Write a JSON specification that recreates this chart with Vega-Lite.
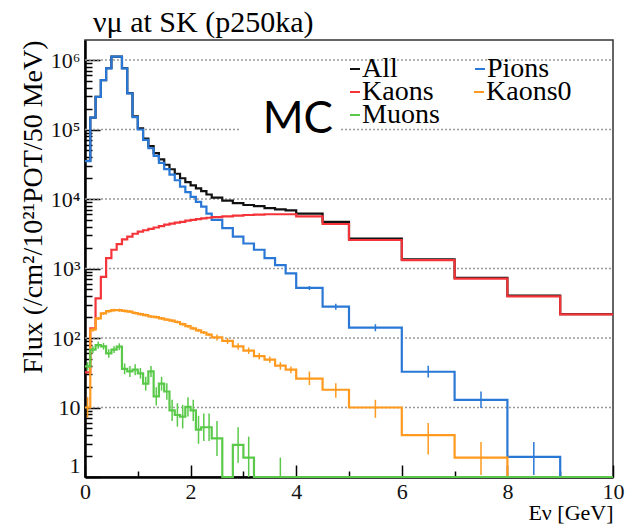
{
  "$schema": "https://vega.github.io/schema/vega-lite/v6.json",
  "width": 528,
  "height": 437,
  "autosize": "none",
  "padding": {"left": 85, "top": 40, "right": 16, "bottom": 48},
  "background": "white",
  "title": {"text": "νμ at SK (p250ka)", "anchor": "start", "frame": "group", "offset": 2, "dx": 8, "font": "Liberation Serif", "fontSize": 30, "fontWeight": "normal", "color": "#000"},
  "config": {
    "view": {"stroke": "#333", "strokeWidth": 1.5},
    "font": "Liberation Serif",
    "legend": {"labelFont": "Liberation Serif", "labelFontSize": 28, "labelColor": "#000", "title": null, "orient": "none", "direction": "horizontal", "columns": 2, "symbolType": "stroke", "symbolSize": 100, "symbolStrokeWidth": 2, "labelOffset": -7, "padding": 0, "labelLimit": 400, "rowPadding": 0}
  },
  "resolve": {"scale": {"color": "independent"}, "legend": {"color": "independent"}},
  "datasets": {
    "grid": [
      {"g": 10, "x0": 0, "x1": 10},
      {"g": 100, "x0": 0, "x1": 10},
      {"g": 1000, "x0": 0, "x1": 10},
      {"g": 10000, "x0": 0, "x1": 10},
      {"g": 100000, "x0": 0, "x1": 2.94},
      {"g": 100000, "x0": 4.85, "x1": 10},
      {"g": 1000000, "x0": 0, "x1": 10}
    ],
    "ann": [{"t": "MC", "e": 4.03, "f": 90000}],
    "h": [
      {"s":"All","e":0,"f":35500},{"s":"All","e":0.1,"f":148000},{"s":"All","e":0.2,"f":295000},{"s":"All","e":0.3,"f":514000},{"s":"All","e":0.4,"f":761000},{"s":"All","e":0.5,"f":1122000},{"s":"All","e":0.6,"f":1122000},{"s":"All","e":0.7,"f":762000},{"s":"All","e":0.8,"f":334000},{"s":"All","e":0.9,"f":155000},{"s":"All","e":1,"f":103500},{"s":"All","e":1.1,"f":74200},{"s":"All","e":1.2,"f":57500},{"s":"All","e":1.3,"f":45700},{"s":"All","e":1.4,"f":37100},{"s":"All","e":1.5,"f":31100},{"s":"All","e":1.6,"f":26800},{"s":"All","e":1.7,"f":23100},{"s":"All","e":1.8,"f":19900},{"s":"All","e":1.9,"f":17500},{"s":"All","e":2,"f":15700},{"s":"All","e":2.1,"f":14200},{"s":"All","e":2.2,"f":13000},{"s":"All","e":2.3,"f":11600},{"s":"All","e":2.4,"f":10500},{"s":"All","e":2.6,"f":9500},{"s":"All","e":2.8,"f":8700},{"s":"All","e":3,"f":8200},{"s":"All","e":3.2,"f":7900},{"s":"All","e":3.4,"f":7400},{"s":"All","e":3.6,"f":7100},{"s":"All","e":3.8,"f":6850},{"s":"All","e":4,"f":6150},{"s":"All","e":4.5,"f":4700},{"s":"All","e":5,"f":2700},{"s":"All","e":6,"f":1350},{"s":"All","e":7,"f":733},{"s":"All","e":8,"f":407},{"s":"All","e":9,"f":221},{"s":"All","e":10,"f":221},
      {"s":"Pions","e":0,"f":35000},{"s":"Pions","e":0.1,"f":148000},{"s":"Pions","e":0.2,"f":295000},{"s":"Pions","e":0.3,"f":513000},{"s":"Pions","e":0.4,"f":759000},{"s":"Pions","e":0.5,"f":1120000},{"s":"Pions","e":0.6,"f":1120000},{"s":"Pions","e":0.7,"f":759000},{"s":"Pions","e":0.8,"f":331000},{"s":"Pions","e":0.9,"f":151000},{"s":"Pions","e":1,"f":100000},{"s":"Pions","e":1.1,"f":70800},{"s":"Pions","e":1.2,"f":53700},{"s":"Pions","e":1.3,"f":41700},{"s":"Pions","e":1.4,"f":33100},{"s":"Pions","e":1.5,"f":26900},{"s":"Pions","e":1.6,"f":22400},{"s":"Pions","e":1.7,"f":18600},{"s":"Pions","e":1.8,"f":15100},{"s":"Pions","e":1.9,"f":12600},{"s":"Pions","e":2,"f":10700},{"s":"Pions","e":2.1,"f":9120},{"s":"Pions","e":2.2,"f":7760},{"s":"Pions","e":2.3,"f":6170},{"s":"Pions","e":2.4,"f":5010},{"s":"Pions","e":2.6,"f":3800},{"s":"Pions","e":2.8,"f":2880},{"s":"Pions","e":3,"f":2290},{"s":"Pions","e":3.2,"f":1860},{"s":"Pions","e":3.4,"f":1410},{"s":"Pions","e":3.6,"f":1120},{"s":"Pions","e":3.8,"f":851},{"s":"Pions","e":4,"f":525},{"s":"Pions","e":4.5,"f":282},{"s":"Pions","e":5,"f":141},{"s":"Pions","e":6,"f":32.7},{"s":"Pions","e":7,"f":12.9},{"s":"Pions","e":8,"f":1.95},{"s":"Pions","e":9,"f":1},{"s":"Pions","e":10,"f":1},
      {"s":"Kaons","e":0,"f":32},{"s":"Kaons","e":0.1,"f":138},{"s":"Kaons","e":0.2,"f":372},{"s":"Kaons","e":0.3,"f":759},{"s":"Kaons","e":0.4,"f":1410},{"s":"Kaons","e":0.5,"f":1860},{"s":"Kaons","e":0.6,"f":2240},{"s":"Kaons","e":0.7,"f":2630},{"s":"Kaons","e":0.8,"f":2880},{"s":"Kaons","e":0.9,"f":3160},{"s":"Kaons","e":1,"f":3390},{"s":"Kaons","e":1.1,"f":3550},{"s":"Kaons","e":1.2,"f":3720},{"s":"Kaons","e":1.3,"f":3890},{"s":"Kaons","e":1.4,"f":4070},{"s":"Kaons","e":1.5,"f":4270},{"s":"Kaons","e":1.6,"f":4420},{"s":"Kaons","e":1.7,"f":4570},{"s":"Kaons","e":1.8,"f":4680},{"s":"Kaons","e":1.9,"f":4900},{"s":"Kaons","e":2,"f":5010},{"s":"Kaons","e":2.1,"f":5130},{"s":"Kaons","e":2.2,"f":5250},{"s":"Kaons","e":2.3,"f":5370},{"s":"Kaons","e":2.4,"f":5500},{"s":"Kaons","e":2.6,"f":5620},{"s":"Kaons","e":2.8,"f":5750},{"s":"Kaons","e":3,"f":5890},{"s":"Kaons","e":3.2,"f":5960},{"s":"Kaons","e":3.4,"f":6030},{"s":"Kaons","e":3.6,"f":6030},{"s":"Kaons","e":3.8,"f":6030},{"s":"Kaons","e":4,"f":5620},{"s":"Kaons","e":4.5,"f":4370},{"s":"Kaons","e":5,"f":2570},{"s":"Kaons","e":6,"f":1320},{"s":"Kaons","e":7,"f":716},{"s":"Kaons","e":8,"f":398},{"s":"Kaons","e":9,"f":219},{"s":"Kaons","e":10,"f":219},
      {"s":"Kaons0","e":0,"f":10},{"s":"Kaons0","e":0.1,"f":132},{"s":"Kaons0","e":0.2,"f":191},{"s":"Kaons0","e":0.3,"f":226},{"s":"Kaons0","e":0.4,"f":243},{"s":"Kaons0","e":0.5,"f":251},{"s":"Kaons0","e":0.6,"f":251},{"s":"Kaons0","e":0.7,"f":245},{"s":"Kaons0","e":0.8,"f":240},{"s":"Kaons0","e":0.9,"f":229},{"s":"Kaons0","e":1,"f":221},{"s":"Kaons0","e":1.1,"f":214},{"s":"Kaons0","e":1.2,"f":204},{"s":"Kaons0","e":1.3,"f":200},{"s":"Kaons0","e":1.4,"f":191},{"s":"Kaons0","e":1.5,"f":184},{"s":"Kaons0","e":1.6,"f":178},{"s":"Kaons0","e":1.7,"f":170},{"s":"Kaons0","e":1.8,"f":158},{"s":"Kaons0","e":1.9,"f":148},{"s":"Kaons0","e":2,"f":138},{"s":"Kaons0","e":2.1,"f":129},{"s":"Kaons0","e":2.2,"f":120},{"s":"Kaons0","e":2.3,"f":112},{"s":"Kaons0","e":2.4,"f":102},{"s":"Kaons0","e":2.6,"f":91},{"s":"Kaons0","e":2.8,"f":76},{"s":"Kaons0","e":3,"f":66},{"s":"Kaons0","e":3.2,"f":55},{"s":"Kaons0","e":3.4,"f":49},{"s":"Kaons0","e":3.6,"f":40},{"s":"Kaons0","e":3.8,"f":35},{"s":"Kaons0","e":4,"f":26},{"s":"Kaons0","e":4.5,"f":18},{"s":"Kaons0","e":5,"f":10},{"s":"Kaons0","e":6,"f":4},{"s":"Kaons0","e":7,"f":1.9},{"s":"Kaons0","e":8,"f":1},{"s":"Kaons0","e":9,"f":1},{"s":"Kaons0","e":10,"f":1},
      {"s":"Muons","e":0,"f":39},{"s":"Muons","e":0.1,"f":68},{"s":"Muons","e":0.2,"f":79},{"s":"Muons","e":0.3,"f":76},{"s":"Muons","e":0.4,"f":60},{"s":"Muons","e":0.5,"f":68},{"s":"Muons","e":0.6,"f":75},{"s":"Muons","e":0.7,"f":36},{"s":"Muons","e":0.8,"f":33},{"s":"Muons","e":0.9,"f":35},{"s":"Muons","e":1,"f":31},{"s":"Muons","e":1.1,"f":22},{"s":"Muons","e":1.2,"f":33},{"s":"Muons","e":1.3,"f":14.5},{"s":"Muons","e":1.4,"f":22},{"s":"Muons","e":1.5,"f":17},{"s":"Muons","e":1.6,"f":9.1},{"s":"Muons","e":1.7,"f":7.8},{"s":"Muons","e":1.8,"f":7.4},{"s":"Muons","e":1.9,"f":10.2},{"s":"Muons","e":2,"f":9.1},{"s":"Muons","e":2.1,"f":4.8},{"s":"Muons","e":2.2,"f":5.2},{"s":"Muons","e":2.3,"f":5.2},{"s":"Muons","e":2.4,"f":3.6},{"s":"Muons","e":2.6,"f":1},{"s":"Muons","e":2.8,"f":2.9},{"s":"Muons","e":3,"f":1.9},{"s":"Muons","e":3.2,"f":1},{"s":"Muons","e":3.4,"f":1},{"s":"Muons","e":3.6,"f":1},{"s":"Muons","e":3.8,"f":1},{"s":"Muons","e":4,"f":1},{"s":"Muons","e":4.5,"f":1},{"s":"Muons","e":5,"f":1},{"s":"Muons","e":6,"f":1},{"s":"Muons","e":7,"f":1},{"s":"Muons","e":8,"f":1},{"s":"Muons","e":9,"f":1},{"s":"Muons","e":10,"f":1}
    ],
    "err": [
      {"s":"Pions","e":4.25,"lo":490,"hi":560},{"s":"Pions","e":4.75,"lo":255,"hi":310},{"s":"Pions","e":5.5,"lo":125,"hi":158},{"s":"Pions","e":6.5,"lo":27,"hi":40},{"s":"Pions","e":7.5,"lo":9.8,"hi":17},{"s":"Pions","e":8.5,"lo":1.07,"hi":3.2},
      {"s":"Kaons0","e":0.05,"lo":7.1,"hi":14.1},{"s":"Kaons0","e":0.15,"lo":123,"hi":141},{"s":"Kaons0","e":0.25,"lo":181,"hi":201},{"s":"Kaons0","e":0.35,"lo":215,"hi":237},{"s":"Kaons0","e":0.45,"lo":231,"hi":255},{"s":"Kaons0","e":0.55,"lo":238,"hi":264},{"s":"Kaons0","e":0.65,"lo":238,"hi":264},{"s":"Kaons0","e":0.75,"lo":233,"hi":257},{"s":"Kaons0","e":0.85,"lo":228,"hi":252},{"s":"Kaons0","e":0.95,"lo":218,"hi":240},{"s":"Kaons0","e":1.05,"lo":210,"hi":232},{"s":"Kaons0","e":1.15,"lo":203,"hi":225},{"s":"Kaons0","e":1.25,"lo":194,"hi":214},{"s":"Kaons0","e":1.35,"lo":190,"hi":210},{"s":"Kaons0","e":1.45,"lo":181,"hi":201},{"s":"Kaons0","e":1.55,"lo":175,"hi":193},{"s":"Kaons0","e":1.65,"lo":169,"hi":187},{"s":"Kaons0","e":1.75,"lo":161,"hi":179},{"s":"Kaons0","e":1.85,"lo":150,"hi":166},{"s":"Kaons0","e":1.95,"lo":141,"hi":155},{"s":"Kaons0","e":2.05,"lo":131,"hi":145},{"s":"Kaons0","e":2.15,"lo":122,"hi":136},{"s":"Kaons0","e":2.25,"lo":114,"hi":126},{"s":"Kaons0","e":2.35,"lo":106,"hi":118},{"s":"Kaons0","e":2.5,"lo":92,"hi":112},{"s":"Kaons0","e":2.7,"lo":82,"hi":100},{"s":"Kaons0","e":2.9,"lo":68,"hi":84},{"s":"Kaons0","e":3.1,"lo":59,"hi":73},{"s":"Kaons0","e":3.3,"lo":49,"hi":61},{"s":"Kaons0","e":3.5,"lo":44,"hi":54},{"s":"Kaons0","e":3.7,"lo":35,"hi":45},{"s":"Kaons0","e":3.9,"lo":31,"hi":39},{"s":"Kaons0","e":4.25,"lo":21,"hi":33},{"s":"Kaons0","e":4.75,"lo":13.8,"hi":22.4},{"s":"Kaons0","e":5.5,"lo":7.1,"hi":12.9},{"s":"Kaons0","e":6.5,"lo":2.1,"hi":6},{"s":"Kaons0","e":7.5,"lo":1.07,"hi":3.2},
      {"s":"Muons","e":0.05,"lo":34,"hi":45},{"s":"Muons","e":0.15,"lo":61,"hi":76},{"s":"Muons","e":0.25,"lo":70,"hi":89},{"s":"Muons","e":0.35,"lo":68,"hi":85},{"s":"Muons","e":0.45,"lo":52,"hi":69},{"s":"Muons","e":0.55,"lo":61,"hi":76},{"s":"Muons","e":0.65,"lo":67,"hi":84},{"s":"Muons","e":0.75,"lo":30,"hi":43},{"s":"Muons","e":0.85,"lo":27.5,"hi":39.5},{"s":"Muons","e":0.95,"lo":29,"hi":42},{"s":"Muons","e":1.05,"lo":26,"hi":37},{"s":"Muons","e":1.15,"lo":17.5,"hi":27.7},{"s":"Muons","e":1.25,"lo":27.5,"hi":39.5},{"s":"Muons","e":1.35,"lo":10.7,"hi":19.6},{"s":"Muons","e":1.45,"lo":17.5,"hi":27.7},{"s":"Muons","e":1.55,"lo":12.9,"hi":22.4},{"s":"Muons","e":1.65,"lo":6.4,"hi":12.9},{"s":"Muons","e":1.75,"lo":5.3,"hi":11.5},{"s":"Muons","e":1.85,"lo":5,"hi":10.9},{"s":"Muons","e":1.95,"lo":7.4,"hi":14.1},{"s":"Muons","e":2.05,"lo":6.4,"hi":12.9},{"s":"Muons","e":2.15,"lo":3,"hi":7.6},{"s":"Muons","e":2.25,"lo":3.3,"hi":8.2},{"s":"Muons","e":2.35,"lo":3.3,"hi":8.2},{"s":"Muons","e":2.5,"lo":2,"hi":6.4},{"s":"Muons","e":2.9,"lo":1.6,"hi":5.2},{"s":"Muons","e":3.1,"lo":1,"hi":3.8},{"s":"Muons","e":3.7,"lo":1,"hi":1.9}
    ]
  },
  "layer": [
    {
      "data": {"name": "grid"},
      "mark": {"type": "rule", "strokeDash": [2, 2], "color": "#999999", "strokeWidth": 1.3},
      "encoding": {
        "x": {"field": "x0", "type": "quantitative", "title": "Eν [GeV]"},
        "x2": {"field": "x1"},
        "y": {"field": "g", "type": "quantitative", "title": "Flux (/cm²/10²¹POT/50 MeV)"}
      }
    },
    {
      "data": {"name": "h"},
      "transform": [{"filter": {"field": "s", "oneOf": ["All", "Pions"]}}],
      "mark": {"type": "line", "interpolate": "step-after", "strokeWidth": 2.2},
      "encoding": {
        "x": {
          "field": "e", "type": "quantitative",
          "scale": {"domain": [0, 10], "nice": false, "zero": false},
          "axis": {
            "title": "Eν [GeV]",
            "values": [0,0.5,1,1.5,2,2.5,3,3.5,4,4.5,5,5.5,6,6.5,7,7.5,8,8.5,9,9.5,10],
            "labelExpr": "datum.value % 2 == 0 ? format(datum.value, 'd') : ''",
            "grid": false, "domainColor": "#000", "domainWidth": 2.5,
            "tickColor": "#000", "tickWidth": 1.5,
            "tickSize": {"condition": {"test": "datum.value % 2 == 0", "value": -12}, "value": -6},
            "labelFont": "Liberation Serif", "labelFontSize": 22, "labelColor": "#111", "labelPadding": 16,
            "labelFlush": false, "labelOverlap": false,
            "titleFont": "Liberation Serif", "titleFontSize": 22, "titleFontWeight": "normal", "titleColor": "#000",
            "titleAnchor": "end", "titlePadding": -6
          }
        },
        "y": {
          "field": "f", "type": "quantitative",
          "scale": {"type": "log", "domain": [1, 1940000], "nice": false},
          "axis": {
            "title": "Flux (/cm²/10²¹POT/50 MeV)",
            "values": [1,2,3,4,5,6,7,8,9,10,20,30,40,50,60,70,80,90,100,200,300,400,500,600,700,800,900,1000,2000,3000,4000,5000,6000,7000,8000,9000,10000,20000,30000,40000,50000,60000,70000,80000,90000,100000,200000,300000,400000,500000,600000,700000,800000,900000,1000000],
            "labelExpr": "datum.value == 1 ? '1' : datum.value == 10 ? '10' : datum.value == 100 ? '10²' : datum.value == 1000 ? '10³' : datum.value == 10000 ? '10⁴' : datum.value == 100000 ? '10⁵' : datum.value == 1000000 ? '10⁶' : ''",
            "grid": false, "domainColor": "#000", "domainWidth": 2.5,
            "tickColor": "#000", "tickWidth": 1.5,
            "tickSize": {"condition": {"test": "indexof([1,10,100,1000,10000,100000,1000000], datum.value) >= 0", "value": -15}, "value": -7},
            "labelFont": "Liberation Serif", "labelFontSize": 22, "labelColor": "#111", "labelPadding": 20,
            "labelFlush": true, "labelOverlap": false,
            "titleFont": "Liberation Serif", "titleFontSize": 28, "titleFontWeight": "normal", "titleColor": "#000",
            "titleAnchor": "end", "titlePadding": 3
          }
        },
        "color": {
          "field": "s", "type": "nominal",
          "scale": {"domain": ["All", "Pions"], "range": ["#111111", "#2a78d6"]},
          "legend": {"legendX": 256, "legendY": 15, "columnPadding": 68, "labelFont": "Liberation Serif"}
        }
      }
    },
    {
      "data": {"name": "h"},
      "transform": [{"filter": {"field": "s", "oneOf": ["Kaons", "Kaons0"]}}],
      "mark": {"type": "line", "interpolate": "step-after", "strokeWidth": 2.2},
      "encoding": {
        "x": {"field": "e", "type": "quantitative", "title": "Eν [GeV]"},
        "y": {"field": "f", "type": "quantitative", "title": "Flux (/cm²/10²¹POT/50 MeV)"},
        "color": {
          "field": "s", "type": "nominal",
          "scale": {"domain": ["Kaons", "Kaons0"], "range": ["#f5343a", "#ff9a1f"]},
          "legend": {"legendX": 256, "legendY": 38, "columnPadding": 31, "labelFont": "Liberation Serif"}
        }
      }
    },
    {
      "data": {"name": "h"},
      "transform": [{"filter": {"field": "s", "equal": "Muons"}}],
      "mark": {"type": "line", "interpolate": "step-after", "strokeWidth": 2.2},
      "encoding": {
        "x": {"field": "e", "type": "quantitative", "title": "Eν [GeV]"},
        "y": {"field": "f", "type": "quantitative", "title": "Flux (/cm²/10²¹POT/50 MeV)"},
        "color": {
          "field": "s", "type": "nominal",
          "scale": {"domain": ["Muons"], "range": ["#5ac94a"]},
          "legend": {"legendX": 256, "legendY": 61, "labelFont": "Liberation Serif"}
        }
      }
    },
    {
      "data": {"name": "err"},
      "mark": {"type": "rule", "strokeWidth": 1.5},
      "encoding": {
        "x": {"field": "e", "type": "quantitative", "title": "Eν [GeV]"},
        "y": {"field": "lo", "type": "quantitative", "title": "Flux (/cm²/10²¹POT/50 MeV)"},
        "y2": {"field": "hi"},
        "color": {"field": "s", "type": "nominal", "legend": null, "scale": {"domain": ["Pions", "Kaons0", "Muons"], "range": ["#2a78d6", "#ff9a1f", "#5ac94a"]}}
      }
    },
    {
      "data": {"name": "ann"},
      "mark": {"type": "text", "font": "Lato", "fontSize": 44, "align": "center", "baseline": "alphabetic", "color": "#000"},
      "encoding": {
        "x": {"field": "e", "type": "quantitative", "title": "Eν [GeV]"},
        "y": {"field": "f", "type": "quantitative", "title": "Flux (/cm²/10²¹POT/50 MeV)"},
        "text": {"field": "t"}
      }
    }
  ]
}
